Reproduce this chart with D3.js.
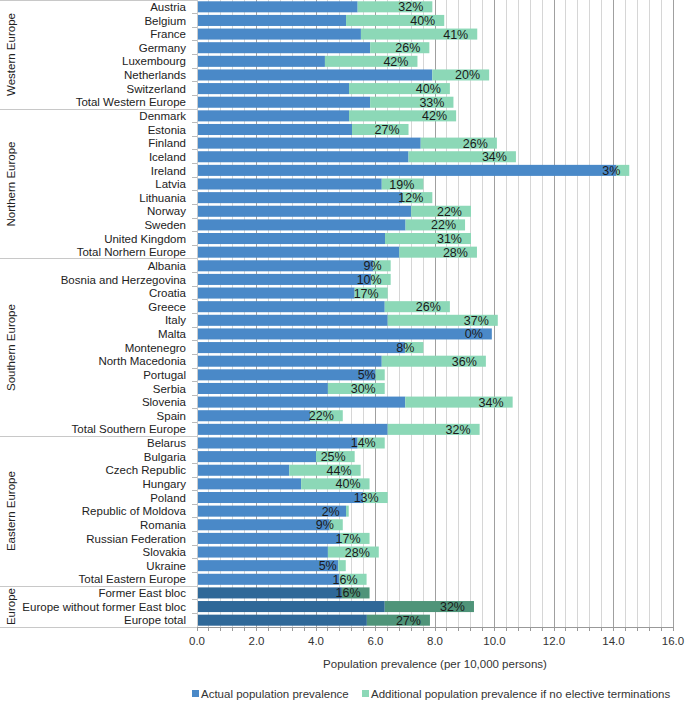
<!DOCTYPE html>
<html><head><meta charset="utf-8">
<script src="https://cdn.jsdelivr.net/npm/d3@7"></script>
<style>body{margin:0;background:#fff}svg{display:block;font-family:"Liberation Sans",Arial,sans-serif}</style>
</head><body><svg id="c" width="685" height="702"></svg>
<script>
const categories = ["Austria","Belgium","France","Germany","Luxembourg","Netherlands","Switzerland","Total Western Europe",
"Denmark","Estonia","Finland","Iceland","Ireland","Latvia","Lithuania","Norway","Sweden","United Kingdom","Total Norhern Europe",
"Albania","Bosnia and Herzegovina","Croatia","Greece","Italy","Malta","Montenegro","North Macedonia","Portugal","Serbia","Slovenia","Spain","Total Southern Europe",
"Belarus","Bulgaria","Czech Republic","Hungary","Poland","Republic of Moldova","Romania","Russian Federation","Slovakia","Ukraine","Total Eastern Europe",
"Former East bloc","Europe without former East bloc","Europe total"];
const groupNames = ["Western Europe","Northern Europe","Southern Europe","Eastern Europe","Europe"];
const groupSizes = [8,11,13,11,3];
const actual = [5.40,5.01,5.51,5.82,4.30,7.91,5.11,5.82,
5.11,5.21,7.52,7.11,14.10,6.21,6.90,7.20,7.01,6.32,6.80,
5.92,5.86,5.30,6.31,6.41,9.91,6.99,6.21,6.00,4.40,7.00,3.80,6.41,
5.40,4.00,3.10,3.50,5.58,5.01,4.46,4.81,4.40,4.75,4.79,
4.87,6.31,5.71];
const additional = [2.51,3.30,3.91,1.99,3.11,1.91,3.39,2.80,
3.60,1.90,2.56,3.61,0.43,1.40,1.01,2.01,2.00,2.89,2.61,
0.59,0.65,1.11,2.19,3.70,0.00,0.62,3.50,0.31,1.91,3.61,1.10,3.09,
0.91,1.30,2.40,2.30,0.83,0.09,0.44,0.99,1.71,0.25,0.91,
0.93,3.00,2.12];
const pctLabels = ["32%","40%","41%","26%","42%","20%","40%","33%",
"42%","27%","26%","34%","3%","19%","12%","22%","22%","31%","28%",
"9%","10%","17%","26%","37%","0%","8%","36%","5%","30%","34%","22%","32%",
"14%","25%","44%","40%","13%","2%","9%","17%","28%","5%","16%",
"16%","32%","27%"];
const xTicks = [0,2,4,6,8,10,12,14,16];
const seriesNames = ["Actual population prevalence","Additional population prevalence if no elective terminations"];

const svg = d3.select("#c");
const L = 197, R = 673, T = 0, B = 627;
const x = d3.scaleLinear().domain([0,16]).range([L,R]);
const y = d3.scaleBand().domain(categories).range([T,B]).paddingInner(0.19).paddingOuter(0.095);
const groupOf = [];
groupSizes.forEach((n,gi)=>{for(let k=0;k<n;k++) groupOf.push(gi);});
const isEurope = i => groupOf[i] === 4;
const cBlue = "#4a89c8", cGreen = "#8cd8b7", cBlueD = "#2f6898", cGreenD = "#4f9479";

// gridlines
const minor = d3.range(0, 16.0001, 0.4);
svg.append("g").selectAll("line").data(minor).join("line")
  .attr("x1", d=>x(d)).attr("x2", d=>x(d)).attr("y1", T).attr("y2", B)
  .attr("stroke", d => Math.abs(d/2 - Math.round(d/2)) < 1e-6 ? "#a0a0a0" : "#d6d6d6")
  .attr("stroke-width", 1).attr("shape-rendering","crispEdges");

// bars
const rows = categories.map((c,i)=>({c,i,a:actual[i],b:additional[i],p:pctLabels[i]}));
svg.append("g").selectAll("rect").data(rows).join("rect")
  .attr("x", x(0)).attr("y", d=>y(d.c)).attr("height", y.bandwidth())
  .attr("width", d=>x(d.a)-x(0)).attr("fill", d=>isEurope(d.i)?cBlueD:cBlue);
svg.append("g").selectAll("rect").data(rows).join("rect")
  .attr("x", d=>x(d.a)).attr("y", d=>y(d.c)).attr("height", y.bandwidth())
  .attr("width", d=>x(d.a+d.b)-x(d.a)).attr("fill", d=>isEurope(d.i)?cGreenD:cGreen);
svg.append("g").selectAll("text").data(rows).join("text")
  .attr("x", d=>x(d.a+d.b)-9).attr("y", d=>y(d.c)+y.bandwidth()/2)
  .attr("dy","0.36em").attr("text-anchor","end").attr("font-size",12.5).attr("fill","#1a1a1a")
  .text(d=>d.p);

// x axis
const xa = svg.append("g").attr("transform",`translate(0,${B})`);
xa.append("line").attr("x1",L).attr("x2",R).attr("y1",0.5).attr("y2",0.5).attr("stroke","#999");
xa.selectAll("line.t").data(minor).join("line").attr("class","t")
  .attr("x1",d=>x(d)).attr("x2",d=>x(d)).attr("y1",0).attr("y2",4).attr("stroke","#999").attr("shape-rendering","crispEdges");
xa.selectAll("text").data(xTicks).join("text")
  .attr("x",d=>x(d)).attr("y",18).attr("text-anchor","middle").attr("font-size",11.5).attr("fill","#333")
  .text(d=>d.toFixed(1));
svg.append("text").attr("x",(L+R)/2).attr("y",668).attr("text-anchor","middle")
  .attr("font-size",11.5).attr("fill","#333").text("Population prevalence (per 10,000 persons)");

// y axis labels
svg.append("g").selectAll("text").data(rows).join("text")
  .attr("x",186).attr("y",d=>y(d.c)+y.bandwidth()/2).attr("dy","0.36em")
  .attr("text-anchor","end").attr("font-size",11.5).attr("fill","#222").text(d=>d.c);
// y ticks at band boundaries
const step = y.step();
const bounds = d3.range(0, categories.length+1).map(k => T + k*step);
svg.append("g").selectAll("line").data(bounds).join("line")
  .attr("x1",L-5).attr("x2",L).attr("y1",d=>d).attr("y2",d=>d).attr("stroke","#bbb").attr("shape-rendering","crispEdges");
svg.append("line").attr("x1",L).attr("x2",L).attr("y1",T).attr("y2",B).attr("stroke","#ccc").attr("shape-rendering","crispEdges");

// group separators and labels
let start = 0;
const gb = [0];
groupSizes.forEach(n=>{start+=n; gb.push(start);});
svg.append("g").selectAll("line").data(gb).join("line")
  .attr("x1",0).attr("x2",L).attr("y1",d=>Math.max(T+0.5,T+d*step)).attr("y2",d=>Math.max(T+0.5,T+d*step))
  .attr("stroke","#c8c8c8").attr("shape-rendering","crispEdges");
svg.append("g").selectAll("text").data(groupNames).join("text")
  .attr("transform",(d,i)=>`translate(11,${T+(gb[i]+gb[i+1])/2*step}) rotate(-90)`)
  .attr("dy","0.36em").attr("text-anchor","middle").attr("font-size",11.5).attr("fill","#222").text(d=>d);

// legend
const lg = svg.append("g").attr("transform","translate(0,694)");
const items = [{n:seriesNames[0],c:cBlue,x:192},{n:seriesNames[1],c:cGreen,x:362}];
lg.selectAll("rect").data(items).join("rect").attr("x",d=>d.x).attr("y",-4).attr("width",7).attr("height",7).attr("fill",d=>d.c);
lg.selectAll("text").data(items).join("text").attr("x",d=>d.x+9).attr("y",0).attr("dy","0.36em")
  .attr("font-size",11.5).attr("fill","#333").text(d=>d.n);
</script></body></html>
